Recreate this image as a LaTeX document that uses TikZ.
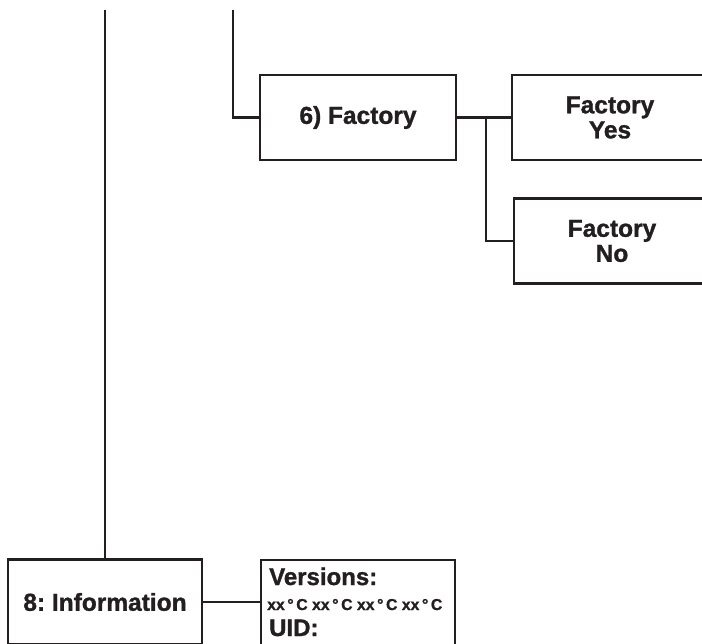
\documentclass[tikz,border=0pt]{standalone}
\usepackage{fontspec}
\setmainfont{Liberation Sans}[BoldFeatures={FakeBold=1.2}]
\definecolor{ink}{HTML}{231F20}
\newcommand{\degsp}{\hspace{2.6pt}}
\begin{document}
\frenchspacing
\begin{tikzpicture}[x=1pt,y=-1pt,
  box/.style={draw=ink,line width=2.4pt,minimum width=196pt,minimum height=85pt,inner sep=0pt,text=ink,font=\fontsize{24.5}{25}\selectfont\bfseries,align=center},
  conn/.style={draw=ink,line width=2.4pt},
  ltxt/.style={anchor=base west,inner sep=0pt,text=ink}]
\useasboundingbox (0,0) rectangle (702,644);
\clip (0,0) rectangle (702,644);
\node[box] (factory) at (358,117.5) {6) Factory};
\node[box] (yes) at (610,117.5) {Factory\\Yes};
\node[box] (no) at (612,241) {Factory\\No};
\node[box,minimum width=194pt] (info) at (105,602) {8: Information};
\node[draw=ink,line width=2.4pt,minimum width=194pt,minimum height=85pt,inner sep=0pt] (versions) at (358,602.5) {};
\node[ltxt,font=\fontsize{24}{24}\selectfont\bfseries] (vt) at (269,585) {Versions:};
\node[ltxt,font=\fontsize{15.8}{16}\selectfont\bfseries] (vx) at (267,610) {xx\degsp°\degsp C xx\degsp°\degsp C xx\degsp°\degsp C xx\degsp°\degsp C};
\node[ltxt,font=\fontsize{24}{24}\selectfont\bfseries] (uid) at (269,636) {UID:};
\coordinate (top1) at (105,10);
\coordinate (top2) at (233,10);
\coordinate (br) at (486,117.5);
\draw[conn] (top1) -- (info.north);
\draw[conn] (top2) |- (factory.west);
\draw[conn] (factory.east) -- (yes.west);
\draw[conn] (br) |- (no.west);
\draw[conn] (info.east) -- (versions.west |- info.east);
\end{tikzpicture}
\end{document}
